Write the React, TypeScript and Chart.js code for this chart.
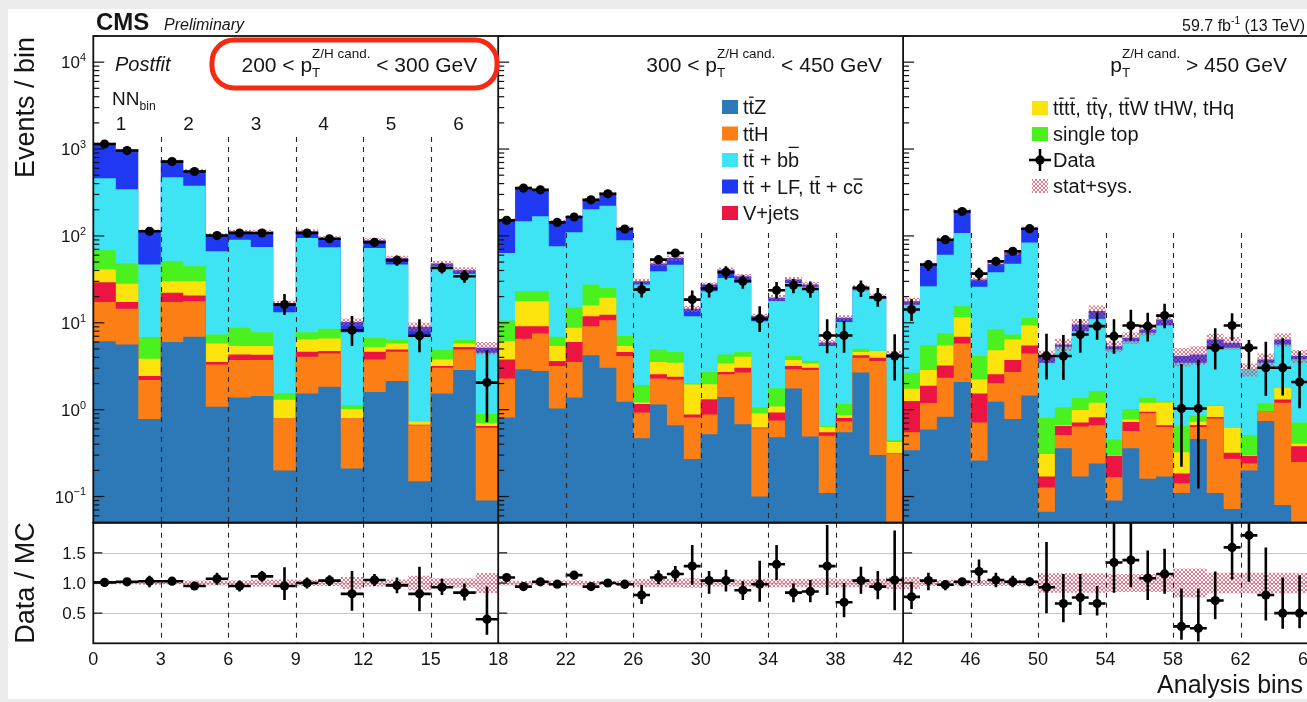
import React, { useEffect, useRef } from "react";
import { Chart, registerables } from "chart.js";

Chart.register(...registerables);

const FONT = '"Liberation Sans", Arial, Helvetica, sans-serif';
const INK = "#161616";

/* ---------------- binning / axes ---------------- */
const regionBinCounts = [18, 24, 24];
const xTickBins = [0, 3, 6, 9, 12, 15, 18, 22, 26, 30, 34, 38, 42, 46, 50, 54, 58, 62, 66];
const nnDividerBins = [3, 6, 9, 12, 15, 22, 26, 30, 34, 38, 46, 50, 54, 58, 62];
const regionDividerBins = [18, 42];
const nnBinLabels = ["1", "2", "3", "4", "5", "6"];
const logTickExponents = [-1, 0, 1, 2, 3, 4];
const ratioTickValues = [0.5, 1.0, 1.5];
const yMainMin = 0.05;
const yMainMax = 20000;
const ratioMin = 0;
const ratioMax = 2;

/* ---------------- post-fit yields per process (bottom -> top of stack) ---------------- */
const ttZ = [
  6.15, 5.63, 0.78, 6.0, 6.9, 1.08, 1.38, 1.44, 0.2, 1.54, 1.84, 0.21, 1.6, 2.14, 0.15, 1.54, 2.86, 0.09,
  0.81, 2.91, 2.79, 1.03, 1.38, 4.22, 3.04, 1.23, 0.47, 1.15, 0.66, 0.27, 0.52, 1.4, 0.68, 0.1, 0.48, 1.75, 0.49, 0.11, 0.55, 2.67, 0.3, 0.04,
  0.34, 0.59, 0.83, 2.08, 0.26, 1.23, 0.78, 1.46, 0.067, 0.36, 0.17, 0.24, 0.09, 0.36, 0.16, 0.17, 0.11, 0.46, 0.11, 0.072, 0.2, 0.74, 0.08, 0.04,
];
const ttH = [
  11.2, 8.9, 1.41, 11.3, 10.8, 2.24, 2.34, 2.28, 0.58, 2.52, 2.6, 0.57, 2.19, 2.5, 0.51, 1.5, 2.07, 0.53,
  1.47, 3.64, 4.75, 2.15, 2.15, 4.93, 7.66, 2.91, 0.46, 1.13, 1.57, 0.54, 0.36, 1.15, 1.99, 0.51, 0.27, 1.16, 2.37, 0.39, 0.18, 1.29, 3.33, 0.27,
  0.21, 0.6, 1.5, 3.7, 0.45, 0.78, 1.94, 2.98, 0.06, 0.15, 0.47, 0.42, 0.077, 0.21, 0.75, 0.46, 0.032, 0.17, 0.68, 0.2, 0.04, 0.2, 1.12, 0.21,
];
const vJets = [
  12.0, 2.8, 0.25, 4.8, 2.9, 0.21, 0.6, 0.57, 0.01, 0.58, 0.28, 0.013, 0.85, 0.29, 0.01, 0.14, 0.32, 0.03,
  1.51, 2.6, 1.6, 0.45, 2.47, 2.75, 1.7, 0.46, 0.23, 0.27, 0.17, 0.07, 0.44, 0.16, 0.37, 0.015, 0.18, 0.27, 0.18, 0.05, 0.07, 0.26, 0.33, 0.005,
  0.71, 0.69, 0.9, 1.11, 0.83, 0.54, 1.01, 1.04, 0.043, 0.14, 0.07, 0.16, 0.128, 0.15, 0.034, 0.03, 0.042, 0.034, 0.035, 0.047, 0.052, 0.01, 0.11, 0.13,
];
const ttOther = [
  11.6, 10.9, 1.41, 8.0, 9.5, 2.25, 1.07, 1.1, 0.51, 1.79, 1.88, 0.22, 0.61, 0.85, 0.06, 0.61, 0.53, 0.05,
  2.36, 8.55, 8.55, 1.76, 2.75, 3.9, 7.0, 0.79, 0.05, 0.98, 1.07, 1.07, 0.64, 0.7, 1.03, 0.28, 0.16, 0.54, 0.37, 0.08, 0.07, 0.38, 0.76, 0.11,
  0.48, 0.99, 2.25, 4.8, 0.69, 2.29, 2.71, 3.82, 0.138, 0.01, 0.28, 0.38, 0.005, 0.05, 0.26, 0.55, 0.14, 0.06, 0.28, 0.3, 0.005, 0.01, 0.48, 0.024,
];
const singleTop = [
  27.3, 19.8, 2.99, 20.9, 14.6, 1.56, 3.36, 2.41, 0.25, 1.37, 1.93, 0.11, 1.47, 0.54, 0.01, 1.06, 0.54, 0.19,
  4.45, 5.4, 5.4, 1.51, 6.15, 11.7, 5.8, 1.64, 0.71, 1.4, 1.13, 0.05, 0.75, 0.91, 0.53, 0.16, 0.67, 0.42, 0.22, 0.02, 0.29, 0.42, 0.05, 0.02,
  0.92, 2.6, 2.05, 3.8, 1.91, 3.53, 0.9, 2.1, 0.5, 0.4, 0.38, 0.44, 0.155, 0.24, 0.17, 0.03, 0.33, 0.125, 0.02, 0.005, 0.21, 0.22, 0.01, 0.31,
];
const ttbb = [
  393, 297, 39.9, 423, 332, 59.1, 81.7, 66.7, 11.7, 86.7, 65.3, 6.68, 65.9, 40.4, 6.43, 39.9, 30.2, 3.63,
  53, 124, 145, 69, 95, 175, 197, 82, 25.6, 34.3, 42.1, 9.9, 20.4, 28.5, 24.7, 9.34, 16, 24.6, 22.3, 4.77, 9.05, 18.7, 14.1, 3.54,
  13.5, 20.8, 53.3, 92.5, 21.8, 29.7, 40.6, 72.8, 2.66, 4.24, 6.64, 9.5, 4.48, 5.14, 6.29, 8.1, 2.82, 2.62, 4.03, 4.53, 2.39, 2.29, 3.84, 3.08,
];
const ttLF = [
  703, 632, 68.3, 262, 188, 36.6, 22.6, 36.5, 3.7, 18.5, 20.7, 2.4, 16.3, 9.0, 1.85, 3.3, 3.7, 0.64,
  89, 208, 171, 71, 58, 62, 88, 34, 2.6, 8.8, 9.0, 2.6, 4.4, 8.1, 5.0, 1.5, 1.7, 2.7, 1.6, 0.5, 1.2, 1.5, 1.3, 0.36,
  1.5, 20.4, 31, 88, 5.5, 9.8, 15.6, 38.8, 0.67, 0.34, 1.54, 2.5, 0.45, 0.56, 0.71, 1.6, 0.67, 0.85, 1.25, 0.74, 0.01, 0.32, 0.8, 0.35,
];

/* ---------------- observed data ---------------- */
const dataCounts = [
  1143, 960, 113, 717, 551, 101, 108, 108, 16.2, 108, 92.8, 8.2, 84.4, 52.4, 7.1, 42.8, 34.3, 2.05,
  151, 355, 339, 143, 165, 260, 305, 120, 24.1, 53.3, 63.6, 18.5, 24.8, 38.1, 30.1, 11.1, 23.7, 27, 24.5, 7.15, 7.15, 25.2, 19.7, 4.14,
  14.2, 46.7, 90.4, 191, 36.8, 50.9, 66.4, 121, 4.14, 4.14, 7.33, 9.15, 7.01, 9.3, 9.15, 12.1, 1.03, 1.03, 5.15, 9.3, 5.15, 3.04, 3.04, 2.08,
];
const ratioVals = [
  1.01, 1.02, 1.03, 1.03, 0.95, 1.07, 0.95, 1.11, 0.95, 1.0, 1.04, 0.82, 1.05, 0.96, 0.82, 0.93, 0.84, 0.4,
  1.09, 0.94, 1.02, 0.98, 1.13, 0.94, 1.0, 0.98, 0.8, 1.09, 1.15, 1.28, 1.04, 1.04, 0.88, 0.98, 1.31, 0.84, 0.86, 1.28, 0.68, 1.04, 0.94, 1.05,
  0.77, 1.04, 0.97, 1.02, 1.19, 1.05, 1.02, 1.02, 0.93, 0.66, 0.76, 0.66, 1.34, 1.38, 1.08, 1.15, 0.28, 0.25, 0.71, 1.59, 1.79, 0.8, 0.5, 0.5,
];
const ratioLow = [
  0.98, 0.99, 0.93, 0.99, 0.91, 0.97, 0.86, 1.02, 0.72, 0.91, 0.95, 0.54, 0.95, 0.83, 0.53, 0.8, 0.71, 0.14,
  1.03, 0.91, 0.99, 0.92, 1.06, 0.9, 0.96, 0.91, 0.65, 0.98, 1.02, 0.97, 0.82, 0.86, 0.72, 0.69, 1.05, 0.68, 0.68, 0.8, 0.43, 0.82, 0.73, 0.55,
  0.57, 0.88, 0.88, 0.95, 1.0, 0.93, 0.93, 0.95, 0.5, 0.35, 0.47, 0.46, 0.84, 0.93, 0.72, 0.82, 0.06, 0.03, 0.4, 1.06, 1.02, 0.38, 0.24, 0.25,
];
const ratioHigh = [
  1.04, 1.05, 1.12, 1.07, 0.99, 1.17, 1.04, 1.2, 1.26, 1.09, 1.13, 1.2, 1.15, 1.09, 1.27, 1.07, 0.99, 0.94,
  1.15, 0.97, 1.05, 1.04, 1.2, 0.98, 1.04, 1.05, 0.97, 1.21, 1.28, 1.63, 1.2, 1.22, 1.03, 1.37, 1.63, 0.99, 1.05, 1.96, 1.0, 1.27, 1.2, 1.87,
  1.02, 1.17, 1.05, 1.08, 1.39, 1.17, 1.12, 1.09, 1.68, 1.15, 1.15, 0.95, 2.1, 2.1, 1.54, 1.57, 0.91, 0.91, 1.19, 2.2, 2.2, 1.59, 1.09, 1.13,
];
/* relative stat+sys uncertainty of the total prediction */
const uncRel = [
  0.02, 0.02, 0.03, 0.02, 0.04, 0.04, 0.04, 0.06, 0.06, 0.05, 0.05, 0.1, 0.06, 0.06, 0.12, 0.08, 0.08, 0.165,
  0.04, 0.035, 0.035, 0.04, 0.04, 0.035, 0.035, 0.04, 0.07, 0.07, 0.07, 0.08, 0.06, 0.06, 0.06, 0.07, 0.07, 0.07, 0.07, 0.08, 0.07, 0.07, 0.07, 0.1,
  0.1, 0.05, 0.05, 0.04, 0.05, 0.05, 0.05, 0.04, 0.16, 0.16, 0.16, 0.16, 0.15, 0.15, 0.15, 0.15, 0.24, 0.24, 0.17, 0.17, 0.17, 0.17, 0.17, 0.17,
];

const COLORS = {
  ttZ: "#2d78b6",
  ttH: "#fb7f14",
  vJets: "#ec1442",
  ttOther: "#fde30c",
  singleTop: "#4bf01f",
  ttbb: "#3fe4f4",
  ttLF: "#1f39f2",
};

const processes = [
  { name: "ttZ", values: ttZ, color: COLORS.ttZ },
  { name: "ttH", values: ttH, color: COLORS.ttH },
  { name: "V+jets", values: vJets, color: COLORS.vJets },
  { name: "tttt, ttgamma, ttW tHW, tHq", values: ttOther, color: COLORS.ttOther },
  { name: "single top", values: singleTop, color: COLORS.singleTop },
  { name: "tt + bb", values: ttbb, color: COLORS.ttbb },
  { name: "tt + LF, tt + cc", values: ttLF, color: COLORS.ttLF },
];

const N_BINS = regionBinCounts.reduce((a, b) => a + b, 0);
const U_REGION = 24;
const U_MAX = U_REGION * regionBinCounts.length;

/* each pT region gets the same display width */
function toU(bin: number): number {
  let start = 0;
  for (let r = 0; r < regionBinCounts.length; r++) {
    const n = regionBinCounts[r];
    if (bin <= start + n || r === regionBinCounts.length - 1) return r * U_REGION + ((bin - start) * U_REGION) / n;
    start += n;
  }
  return 0;
}

function stepLine(vals: number[], floor = -Infinity) {
  const pts: { x: number; y: number }[] = [];
  vals.forEach((v, i) => {
    const y = Math.max(v, floor);
    pts.push({ x: toU(i), y }, { x: toU(i + 1), y });
  });
  return pts;
}

function errorBars(center: number[], lo: number[], hi: number[]) {
  const pts: { x: number; y: number | null }[] = [];
  center.forEach((c, i) => {
    const xc = toU(i + 0.5);
    pts.push({ x: xc, y: lo[i] }, { x: xc, y: hi[i] }, { x: xc, y: null });
    pts.push({ x: toU(i), y: c }, { x: toU(i + 1), y: c }, { x: toU(i + 1), y: null });
  });
  return pts;
}

/* ---------------- rich text helpers ---------------- */
type Part = { t: string; k?: "sup" | "sub" | "bar" | "subsup"; s?: string; h?: number };
const SUB_SCALE = 0.64;

function setFont(ctx: CanvasRenderingContext2D, size: number, style = "") {
  ctx.font = `${style} ${size}px ${FONT}`.trim();
}
function partWidth(ctx: CanvasRenderingContext2D, p: Part, size: number, style: string) {
  if (p.k === "sup" || p.k === "sub") {
    setFont(ctx, size * SUB_SCALE, style);
    return ctx.measureText(p.t).width;
  }
  if (p.k === "subsup") {
    setFont(ctx, size * SUB_SCALE, style);
    return Math.max(ctx.measureText(p.t).width, ctx.measureText(p.s || "").width);
  }
  setFont(ctx, size, style);
  return ctx.measureText(p.t).width;
}
function drawRich(
  ctx: CanvasRenderingContext2D,
  parts: Part[],
  x: number,
  y: number,
  size: number,
  style = "",
  align: "left" | "right" | "center" = "left"
) {
  const widths = parts.map((p) => partWidth(ctx, p, size, style));
  const total = widths.reduce((a, b) => a + b, 0);
  let cx = align === "right" ? x - total : align === "center" ? x - total / 2 : x;
  ctx.textAlign = "left";
  ctx.textBaseline = "alphabetic";
  parts.forEach((p, i) => {
    const w = widths[i];
    if (p.k === "sup") {
      setFont(ctx, size * SUB_SCALE, style);
      ctx.fillText(p.t, cx, y - size * 0.42);
    } else if (p.k === "sub") {
      setFont(ctx, size * SUB_SCALE, style);
      ctx.fillText(p.t, cx, y + size * 0.24);
    } else if (p.k === "subsup") {
      setFont(ctx, size * SUB_SCALE, style);
      ctx.fillText(p.t, cx, y + size * 0.28);
      ctx.fillText(p.s || "", cx, y - size * 0.66);
    } else {
      setFont(ctx, size, style);
      ctx.fillText(p.t, cx, y);
      if (p.k === "bar") {
        const by = y - size * (p.h ?? 0.86);
        ctx.save();
        ctx.lineWidth = Math.max(1, size * 0.065);
        ctx.strokeStyle = ctx.fillStyle as string;
        ctx.beginPath();
        ctx.moveTo(cx + 0.5, by);
        ctx.lineTo(cx + w - 0.5, by);
        ctx.stroke();
        ctx.restore();
      }
    }
    cx += w;
  });
  return total;
}

const T: Part = { t: "t" };
const TB: Part = { t: "t", k: "bar", h: 0.84 };

function makeHatch(): CanvasPattern | string {
  const c = document.createElement("canvas");
  c.width = 4;
  c.height = 4;
  const g = c.getContext("2d");
  if (!g) return "rgba(222,72,100,0.45)";
  g.fillStyle = "rgba(222, 72, 100, 0.72)";
  for (let i = 0; i < 4; i++) {
    g.fillRect(i, i, 1, 1);
    g.fillRect(3 - i, i, 1, 1);
  }
  const p = (document.createElement("canvas").getContext("2d") as CanvasRenderingContext2D).createPattern(c, "repeat");
  return p || "rgba(222,72,100,0.45)";
}

function line(ctx: CanvasRenderingContext2D, x1: number, y1: number, x2: number, y2: number) {
  ctx.beginPath();
  ctx.moveTo(x1, y1);
  ctx.lineTo(x2, y2);
  ctx.stroke();
}

export default function App() {
  const ref = useRef<HTMLCanvasElement>(null);

  useEffect(() => {
    const canvas = ref.current;
    if (!canvas) return;
    const hatch = makeHatch();

    const cumulative: number[][] = [];
    let run = new Array(N_BINS).fill(0);
    for (const p of processes) {
      run = run.map((r: number, i: number) => r + p.values[i]);
      cumulative.push(run);
    }
    const totalMC = run;
    const dataLow = dataCounts.map((d, i) => (d * ratioLow[i]) / ratioVals[i]);
    const dataHigh = dataCounts.map((d, i) => (d * ratioHigh[i]) / ratioVals[i]);
    const clear = "rgba(0,0,0,0)";

    const datasets: any[] = [
      ...processes.map((p, k) => ({
        type: "line",
        label: p.name,
        data: stepLine(cumulative[k], yMainMin),
        yAxisID: "y",
        borderWidth: 0,
        borderColor: clear,
        backgroundColor: p.color,
        pointRadius: 0,
        fill: "start",
        order: 10,
      })),
      {
        type: "line",
        label: "unc-lo",
        data: stepLine(totalMC.map((t: number, i: number) => t * (1 - uncRel[i]))),
        yAxisID: "y",
        borderWidth: 0,
        borderColor: clear,
        pointRadius: 0,
        fill: false,
        order: 5,
      },
      {
        type: "line",
        label: "stat+sys.",
        data: stepLine(totalMC.map((t: number, i: number) => t * (1 + uncRel[i]))),
        yAxisID: "y",
        borderWidth: 0,
        borderColor: clear,
        backgroundColor: hatch,
        pointRadius: 0,
        fill: "-1",
        order: 5,
      },
      {
        type: "line",
        label: "data-err",
        data: errorBars(dataCounts, dataLow, dataHigh),
        yAxisID: "y",
        borderColor: "#000",
        borderWidth: 2.6,
        pointRadius: 0,
        fill: false,
        spanGaps: false,
        order: 1,
      },
      {
        type: "line",
        label: "Data",
        data: dataCounts.map((d, i) => ({ x: toU(i + 0.5), y: d })),
        yAxisID: "y",
        showLine: false,
        pointRadius: 4.6,
        pointBackgroundColor: "#000",
        pointBorderColor: "#000",
        pointBorderWidth: 0,
        order: 0,
      },
      {
        type: "line",
        label: "ratio-unc-lo",
        data: stepLine(uncRel.map((u) => 1 - u)),
        yAxisID: "yr",
        borderWidth: 0,
        borderColor: clear,
        pointRadius: 0,
        fill: false,
        order: 5,
      },
      {
        type: "line",
        label: "ratio-unc-hi",
        data: stepLine(uncRel.map((u) => 1 + u)),
        yAxisID: "yr",
        borderWidth: 0,
        borderColor: clear,
        backgroundColor: hatch,
        pointRadius: 0,
        fill: "-1",
        order: 5,
      },
      {
        type: "line",
        label: "ratio-err",
        data: errorBars(ratioVals, ratioLow, ratioHigh),
        yAxisID: "yr",
        borderColor: "#000",
        borderWidth: 2.6,
        pointRadius: 0,
        fill: false,
        spanGaps: false,
        order: 1,
      },
      {
        type: "line",
        label: "Data/MC",
        data: ratioVals.map((r, i) => ({ x: toU(i + 0.5), y: r })),
        yAxisID: "yr",
        showLine: false,
        pointRadius: 4.6,
        pointBackgroundColor: "#000",
        pointBorderColor: "#000",
        pointBorderWidth: 0,
        order: 0,
      },
    ];

    const decor = {
      id: "decor",
      beforeDatasetsDraw(chart: any) {
        const { ctx } = chart;
        const xs = chart.scales.x;
        const yr = chart.scales.yr;
        ctx.save();
        ctx.strokeStyle = "#c6c6c6";
        ctx.lineWidth = 1;
        for (const v of ratioTickValues) {
          const py = Math.round(yr.getPixelForValue(v)) + 0.5;
          line(ctx, xs.left, py, xs.right, py);
        }
        ctx.restore();
      },
      afterDatasetsDraw(chart: any) {
        const { ctx } = chart;
        const xs = chart.scales.x;
        const ym = chart.scales.y;
        const yr = chart.scales.yr;
        const top = ym.top;
        const mid = ym.bottom;
        const bot = yr.bottom;
        const L = xs.left;
        const R = xs.right;
        const dashTop = [137, 233, 233];
        ctx.save();
        ctx.strokeStyle = "#262626";
        ctx.lineWidth = 1.1;
        ctx.setLineDash([5, 5]);
        for (const b of nnDividerBins) {
          const px = Math.round(xs.getPixelForValue(toU(b))) + 0.5;
          const region = b < 18 ? 0 : b < 42 ? 1 : 2;
          line(ctx, px, dashTop[region], px, mid);
          line(ctx, px, mid, px, bot);
        }
        ctx.setLineDash([]);
        ctx.strokeStyle = "#111";
        ctx.lineWidth = 1.8;
        ctx.strokeRect(L, top, R - L, mid - top);
        ctx.strokeRect(L, mid, R - L, bot - mid);
        for (const b of regionDividerBins) {
          const px = xs.getPixelForValue(toU(b));
          line(ctx, px, top, px, bot);
        }
        // y tick marks for each pT region
        ctx.lineWidth = 1.2;
        for (const u0 of [0, U_REGION, 2 * U_REGION]) {
          const px = xs.getPixelForValue(u0);
          for (let n = -2; n <= 4; n++) {
            for (let k = 1; k <= 9; k++) {
              const v = k * Math.pow(10, n);
              if (v < yMainMin || v > yMainMax) continue;
              const py = ym.getPixelForValue(v);
              line(ctx, px, py, px + (k === 1 ? 11 : 6), py);
            }
          }
          for (const v of ratioTickValues) {
            const py = yr.getPixelForValue(v);
            line(ctx, px, py, px + 9, py);
          }
        }
        ctx.restore();
      },
      afterDraw(chart: any) {
        const { ctx } = chart;
        const xs = chart.scales.x;
        const ym = chart.scales.y;
        const yr = chart.scales.yr;
        ctx.save();
        ctx.fillStyle = INK;

        // y tick labels
        for (const n of logTickExponents) {
          const py = ym.getPixelForValue(Math.pow(10, n));
          const parts: Part[] = [{ t: "10" }, { t: n < 0 ? "\u2212" + -n : String(n), k: "sup" }];
          drawRich(ctx, parts, 86, py + 6, 17, "", "right");
        }
        for (const v of ratioTickValues) {
          drawRich(ctx, [{ t: v.toFixed(1) }], 86, yr.getPixelForValue(v) + 6, 17, "", "right");
        }
        // x tick labels
        setFont(ctx, 18);
        ctx.textAlign = "center";
        ctx.textBaseline = "alphabetic";
        for (const b of xTickBins) ctx.fillText(String(b), xs.getPixelForValue(toU(b)), 665);

        // axis titles
        setFont(ctx, 27);
        ctx.save();
        ctx.translate(27, 37);
        ctx.rotate(-Math.PI / 2);
        ctx.textAlign = "right";
        ctx.textBaseline = "middle";
        ctx.fillText("Events / bin", 0, 0);
        ctx.restore();
        ctx.save();
        ctx.translate(27, (yr.top + yr.bottom) / 2);
        ctx.rotate(-Math.PI / 2);
        ctx.textAlign = "center";
        ctx.textBaseline = "middle";
        ctx.fillText("Data / MC", 0, 0);
        ctx.restore();
        setFont(ctx, 25);
        ctx.textAlign = "right";
        ctx.textBaseline = "alphabetic";
        ctx.fillText("Analysis bins", 1303, 693);

        // header
        drawRich(ctx, [{ t: "CMS" }], 96, 29.5, 24, "bold");
        drawRich(ctx, [{ t: "Preliminary" }], 164, 29.5, 16, "italic");
        drawRich(ctx, [{ t: "59.7 fb" }, { t: "-1", k: "sup" }, { t: " (13 TeV)" }], 1305, 31, 16, "", "right");

        // region annotations
        drawRich(ctx, [{ t: "Postfit" }], 115, 71, 20, "italic");
        const ptPart: Part = { t: "T", k: "subsup", s: "Z/H cand." };
        const regionRight = [18, 42, 66].map((b) => xs.getPixelForValue(toU(b)) - 21);
        drawRich(ctx, [{ t: "200 < p" }, ptPart, { t: " < 300 GeV" }], regionRight[0], 71.5, 21, "", "right");
        drawRich(ctx, [{ t: "300 < p" }, ptPart, { t: " < 450 GeV" }], regionRight[1], 71.5, 21, "", "right");
        drawRich(ctx, [{ t: "p" }, ptPart, { t: " > 450 GeV" }], regionRight[2], 71.5, 21, "", "right");
        drawRich(ctx, [{ t: "NN" }, { t: "bin", k: "sub" }], 112, 105, 19);
        nnBinLabels.forEach((lab, k) => {
          const px = xs.getPixelForValue(toU(3 * k + 1.5)) - 6;
          drawRich(ctx, [{ t: lab }], px, 129.5, 19, "", "center");
        });

        // legends
        const legendA: { parts: Part[]; color: string }[] = [
          { parts: [T, TB, { t: "Z" }], color: COLORS.ttZ },
          { parts: [T, TB, { t: "H" }], color: COLORS.ttH },
          { parts: [T, TB, { t: " + b" }, { t: "b", k: "bar", h: 0.98 }], color: COLORS.ttbb },
          { parts: [T, TB, { t: " + LF, t" }, TB, { t: " + c" }, { t: "c", k: "bar", h: 0.72 }], color: COLORS.ttLF },
          { parts: [{ t: "V+jets" }], color: COLORS.vJets },
        ];
        const rowsA = [107, 133.5, 160, 186.5, 213];
        legendA.forEach((e, i) => {
          ctx.fillStyle = e.color;
          ctx.fillRect(722, rowsA[i] - 7, 16, 14);
          ctx.fillStyle = INK;
          drawRich(ctx, e.parts, 743, rowsA[i] + 7, 20);
        });
        const rowsB = [108, 134, 160, 186];
        ctx.fillStyle = COLORS.ttOther;
        ctx.fillRect(1032, rowsB[0] - 7, 16, 14);
        ctx.fillStyle = COLORS.singleTop;
        ctx.fillRect(1032, rowsB[1] - 7, 16, 14);
        ctx.fillStyle = hatch as any;
        ctx.fillRect(1032, rowsB[3] - 7, 16, 14);
        ctx.strokeStyle = "#000";
        ctx.lineWidth = 2.6;
        line(ctx, 1029, rowsB[2], 1051, rowsB[2]);
        line(ctx, 1040, rowsB[2] - 11, 1040, rowsB[2] + 11);
        ctx.fillStyle = "#000";
        ctx.beginPath();
        ctx.arc(1040, rowsB[2], 4.6, 0, Math.PI * 2);
        ctx.fill();
        ctx.fillStyle = INK;
        drawRich(
          ctx,
          [T, TB, T, TB, { t: ", t" }, TB, { t: "\u03b3, t" }, TB, { t: "W tHW, tHq" }],
          1053,
          rowsB[0] + 7,
          20
        );
        drawRich(ctx, [{ t: "single top" }], 1053, rowsB[1] + 7, 20);
        drawRich(ctx, [{ t: "Data" }], 1053, rowsB[2] + 7, 20);
        drawRich(ctx, [{ t: "stat+sys." }], 1053, rowsB[3] + 7, 20);

        // highlight box
        ctx.strokeStyle = "#f52a12";
        ctx.lineWidth = 5;
        const bx = 212, by = 40, bw = 285, bh = 48, r = 22;
        ctx.beginPath();
        ctx.moveTo(bx + r, by);
        ctx.lineTo(bx + bw - r, by);
        ctx.arcTo(bx + bw, by, bx + bw, by + r, r);
        ctx.lineTo(bx + bw, by + bh - r);
        ctx.arcTo(bx + bw, by + bh, bx + bw - r, by + bh, r);
        ctx.lineTo(bx + r, by + bh);
        ctx.arcTo(bx, by + bh, bx, by + bh - r, r);
        ctx.lineTo(bx, by + r);
        ctx.arcTo(bx, by, bx + r, by, r);
        ctx.closePath();
        ctx.stroke();
        ctx.restore();
      },
    };

    const chart = new Chart(canvas, {
      type: "line",
      data: { datasets },
      options: {
        responsive: false,
        animation: false,
        devicePixelRatio: 1,
        events: [],
        layout: { padding: { left: 0, right: 22, top: 36, bottom: 0 }, autoPadding: false },
        plugins: { legend: { display: false }, tooltip: { enabled: false } },
        scales: {
          x: {
            type: "linear",
            min: 0,
            max: U_MAX,
            position: "bottom",
            ticks: { display: false },
            grid: { display: false, drawTicks: false },
            border: { display: false },
            afterFit: (s: any) => {
              s.height = 58.7;
            },
          },
          y: {
            type: "logarithmic",
            min: yMainMin,
            max: yMainMax,
            position: "left",
            stack: "panels",
            stackWeight: 486.7,
            weight: 2,
            ticks: { display: false },
            grid: { display: false, drawTicks: false },
            border: { display: false },
            afterFit: (s: any) => {
              s.width = 93.3;
            },
          },
          yr: {
            type: "linear",
            min: ratioMin,
            max: ratioMax,
            position: "left",
            stack: "panels",
            stackWeight: 120.6,
            weight: 1,
            ticks: { display: false },
            grid: { display: false, drawTicks: false },
            border: { display: false },
            afterFit: (s: any) => {
              s.width = 93.3;
            },
          },
        },
      } as any,
      plugins: [decor],
    });
    return () => chart.destroy();
  }, []);

  return (
    <div
      style={{
        position: "fixed",
        left: 0,
        top: 0,
        width: 1307,
        height: 702,
        overflow: "hidden",
        background: "#ebebeb",
      }}
    >
      <div style={{ position: "absolute", left: 8, top: 9, width: 1400, height: 690, background: "#ffffff" }} />
      <canvas
        ref={ref}
        width={1330}
        height={702}
        style={{ position: "absolute", left: 0, top: 0, width: 1330, height: 702 }}
      />
    </div>
  );
}
